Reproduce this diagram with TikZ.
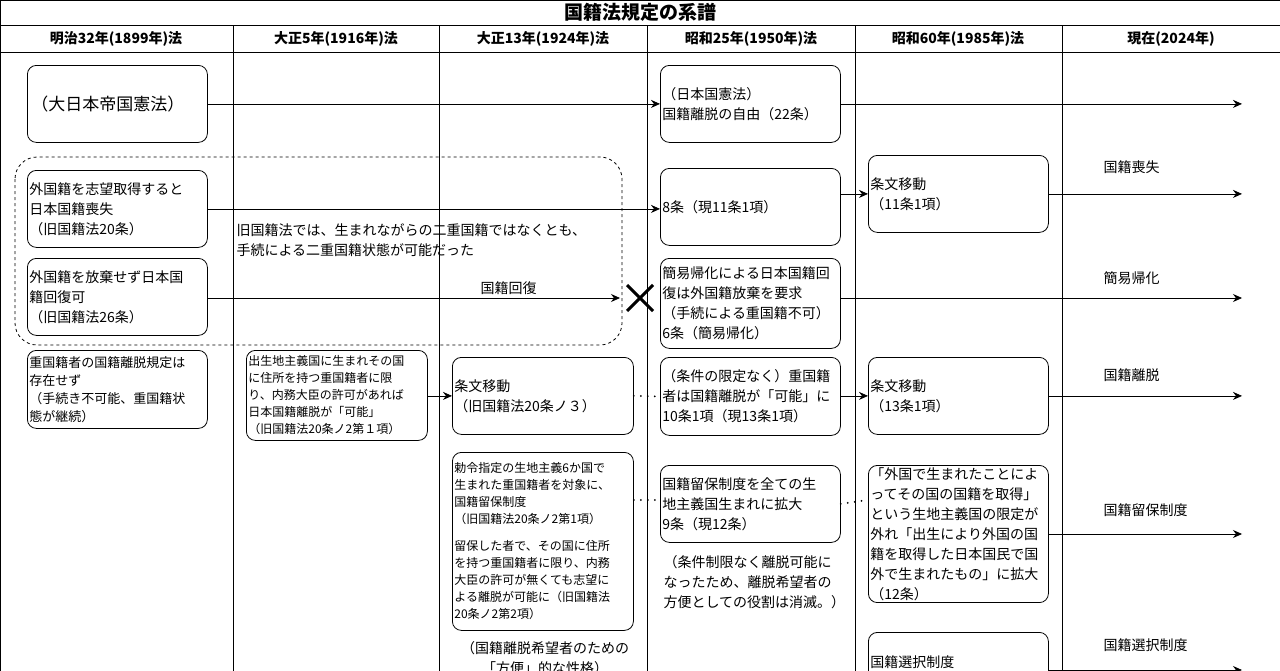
\documentclass[tikz,border=0pt]{standalone}
\usepackage{fontspec}
\setmainfont{Noto Sans CJK JP}
\usetikzlibrary{arrows.meta}
\begin{document}
\begin{tikzpicture}[x=1pt,y=-1pt,
 box/.style={draw,thick,rounded corners=9pt,anchor=north west,align=left,inner sep=2pt,font=\fontsize{14}{20}\selectfont},
 sbox/.style={box,font=\fontsize{12}{17}\selectfont},
 arr/.style={thick,-{Stealth[length=9pt,width=8pt]}},
 dots/.style={line width=2pt,line cap=round,dash pattern=on 0pt off 7pt},
 lab/.style={font=\fontsize{14}{20}\selectfont,anchor=west},
 hd/.style={font=\bfseries\fontsize{14}{16}\selectfont}]
\useasboundingbox (0,0) rectangle (1280,670);
\clip (0,0) rectangle (1280,670);
% grid
\draw[thick] (0,0) rectangle (1280,700);
\draw[thick] (0,25) -- (1280,25) (0,52) -- (1280,52);
\foreach \x in {233,439,647,855,1062} \draw[thick] (\x,25) -- (\x,700);
\node[hd,font=\bfseries\fontsize{19}{20}\selectfont] (title) at (640,12) {国籍法規定の系譜};
\node[hd] (h1) at (116,39) {明治32年(1899年)法};
\node[hd] (h2) at (336,39) {大正5年(1916年)法};
\node[hd] (h3) at (543,39) {大正13年(1924年)法};
\node[hd] (h4) at (751,39) {昭和25年(1950年)法};
\node[hd] (h5) at (958,39) {昭和60年(1985年)法};
\node[hd] (h6) at (1171,39) {現在(2024年)};
% dashed group
\draw[thick,dashed,rounded corners=22pt] (15,157) rectangle (622,345);
% column 1
\node[box,font=\fontsize{17}{22}\selectfont,minimum width=180,minimum height=77,text width=172] (a1) at (27,65) {（大日本帝国憲法）};
\node[box,minimum width=180,minimum height=77,text width=176] (a2) at (27,170) {外国籍を志望取得すると\\日本国籍喪失\\（旧国籍法20条）};
\node[box,minimum width=180,minimum height=77,text width=176] (a3) at (27,258) {外国籍を放棄せず日本国\\籍回復可\\（旧国籍法26条）};
\node[box,font=\fontsize{13}{18}\selectfont,minimum width=180,minimum height=78,text width=176] (a4) at (27,350) {重国籍者の国籍離脱規定は\\存在せず\\（手続き不可能、重国籍状\\態が継続）};
% column 2
\node[sbox,minimum width=181,minimum height=90,text width=177] (b1) at (246,350) {出生地主義国に生まれその国\\に住所を持つ重国籍者に限\\り、内務大臣の許可があれば\\日本国籍離脱が「可能」\\（旧国籍法20条ノ2第１項）};
\node[lab] (t1) at (233,240) {\parbox{400pt}{\fontsize{14}{20}\selectfont 旧国籍法では、生まれながらの二重国籍ではなくとも、\\手続による二重国籍状態が可能だった}};
% column 3
\node[box,minimum width=181,minimum height=77,text width=177] (c1) at (452,357) {条文移動\\（旧国籍法20条ノ３）};
\node[sbox,minimum width=181,minimum height=178,text width=177] (c2) at (452,452) {勅令指定の生地主義6か国で\\生まれた重国籍者を対象に、\\国籍留保制度\\（旧国籍法20条ノ2第1項）\\[10pt]留保した者で、その国に住所\\を持つ重国籍者に限り、内務\\大臣の許可が無くても志望に\\よる離脱が可能に（旧国籍法\\20条ノ2第2項）};
\node[font=\fontsize{14}{20}\selectfont,align=center] (t2) at (545,658) {（国籍離脱希望者のための\\「方便」的な性格）};
% column 4
\node[box,minimum width=180,minimum height=77,text width=176] (d1) at (660,65) {（日本国憲法）\\国籍離脱の自由（22条）};
\node[box,minimum width=180,minimum height=77,text width=176] (d2) at (660,168) {8条（現11条1項）};
\node[box,minimum width=180,minimum height=90,text width=176] (d3) at (660,258) {簡易帰化による日本国籍回\\復は外国籍放棄を要求\\（手続による重国籍不可）\\6条（簡易帰化）};
\node[box,minimum width=180,minimum height=78,text width=176] (d4) at (660,357) {（条件の限定なく）重国籍\\者は国籍離脱が「可能」に\\10条1項（現13条1項）};
\node[box,minimum width=180,minimum height=77,text width=176] (d5) at (660,465) {国籍留保制度を全ての生\\地主義国生まれに拡大\\9条（現12条）};
\node[lab,anchor=north west,align=left] (t3) at (660,552) {（条件制限なく離脱可能に\\なったため、離脱希望者の\\方便としての役割は消滅。）};
% column 5
\node[box,minimum width=180,minimum height=77,text width=176] (e1) at (868,155) {条文移動\\（11条1項）};
\node[box,minimum width=180,minimum height=77,text width=176] (e2) at (868,357) {条文移動\\（13条1項）};
\node[box,minimum width=180,minimum height=135,text width=176] (e3) at (868,465) {「外国で生まれたことによ\\ってその国の国籍を取得」\\という生地主義国の限定が\\外れ「出生により外国の国\\籍を取得した日本国民で国\\外で生まれたもの」に拡大\\（12条）};
\node[box,minimum width=180,minimum height=80,text width=176,anchor=north west] (e4) at (868,632) {国籍選択制度\\（新規義務規定）};
% labels right
\node[lab] (l1) at (1100,167) {国籍喪失};
\node[lab] (l2) at (1100,278) {簡易帰化};
\node[lab] (l3) at (1100,375) {国籍離脱};
\node[lab] (l4) at (1100,510) {国籍留保制度};
\node[lab] (l5) at (1100,645) {国籍選択制度};
\coordinate (r) at (1242,0);
\coordinate (r6) at (1242,670);
\coordinate (x) at (640,298);
% connectors
\draw[arr] (a1.east) -- (a1.east -| d1.west);
\draw[arr] (d1.east) -- (d1.east -| r);
\draw[arr] (a2.east) -- (a2.east -| d2.west);
\draw[arr] (d2.east |- e1.west) -- (e1.west);
\draw[arr] (e1.east) -- (e1.east -| r);
\draw[arr] (a3.east |- x) -- node[above,font=\fontsize{14}{20}\selectfont,pos=0.73]{国籍回復} ([xshift=-20pt]x);
\draw[line width=3pt] ([shift={(-13,-13)}]x) -- ([shift={(13,13)}]x) ([shift={(-13,13)}]x) -- ([shift={(13,-13)}]x);
\draw[arr] (d3.east |- x) -- (x -| r);
\draw[arr] (b1.east |- c1.west) -- (c1.west);
\draw[dots] (c1.east) -- (d4.west);
\draw[arr] (d4.east |- e2.west) -- (e2.west);
\draw[arr] (e2.east) -- (e2.east -| r);
\draw[dots] (c2.east |- 0,500) -- (d5.west |- 0,500);
\draw[dots] (d5.east) -- ([yshift=4pt]e3.west |- d5.east);
\draw[arr] (e3.east) -- (e3.east -| r);
\draw[arr] (e4.east |- r6) -- (r6);
\end{tikzpicture}
\end{document}
